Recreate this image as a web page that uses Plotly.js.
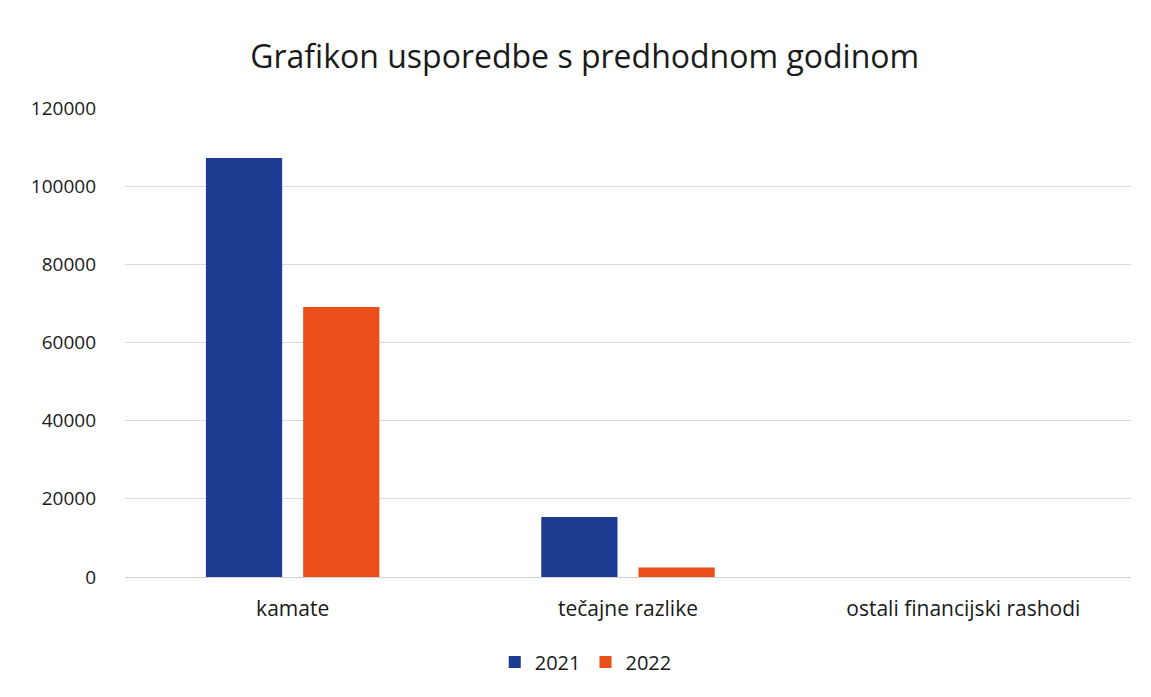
<!DOCTYPE html>
<html>
<head>
<meta charset="utf-8">
<script src="https://cdn.plot.ly/plotly-3.0.1.min.js"></script>
<style>html,body{margin:0;padding:0;background:#fff;}#chart{width:1151px;height:697px;}</style>
</head>
<body>
<div id="chart"></div>
<script>
const categories = ["kamate", "tečajne razlike", "ostali financijski rashodi"];
const values2021 = [107200, 15350, 0];
const values2022 = [69100, 2450, 0];
const seriesNames = ["2021", "2022"];
const yTicks = [0, 20000, 40000, 60000, 80000, 100000, 120000];

const font = "Open Sans, sans-serif";
const data = [
  {type: "bar", x: categories, y: values2021, name: seriesNames[0], marker: {color: "#1d3b90"}},
  {type: "bar", x: categories, y: values2022, name: seriesNames[1], marker: {color: "#e94e1b"}}
];
const layout = {
  width: 1151, height: 697,
  margin: {l: 125, r: 20, t: 108, b: 120},
  paper_bgcolor: "#fff", plot_bgcolor: "#fff",
  font: {family: font, color: "#404040"},
  title: {text: "Grafikon usporedbe s predhodnom godinom", font: {size: 32, color: "#1a1a1a", family: font}, x: 0.508, xanchor: "center", y: 0.918, yanchor: "middle"},
  barmode: "group", bargap: 0.42, bargroupgap: 0.216,
  xaxis: {tickfont: {size: 21, color: "#1a1a1a"}, showgrid: false, showline: false, ticks: "", ticklabelstandoff: 17, automargin: false},
  yaxis: {range: [0, 120000], tickvals: yTicks, ticktext: yTicks.map(String), tickfont: {size: 19, color: "#1a1a1a"}, gridcolor: "#d9d9d9", gridwidth: 1, zeroline: true, zerolinecolor: "#d0d0d0", zerolinewidth: 1, ticks: "", ticklabelstandoff: 28, automargin: false},
  legend: {orientation: "h", x: 0.458, xanchor: "center", y: -0.181, yanchor: "middle", font: {size: 20, color: "#1a1a1a"}, itemwidth: 30},
  showlegend: true
};
Plotly.newPlot("chart", data, layout, {displayModeBar: false, staticPlot: true});
</script>
</body>
</html>
